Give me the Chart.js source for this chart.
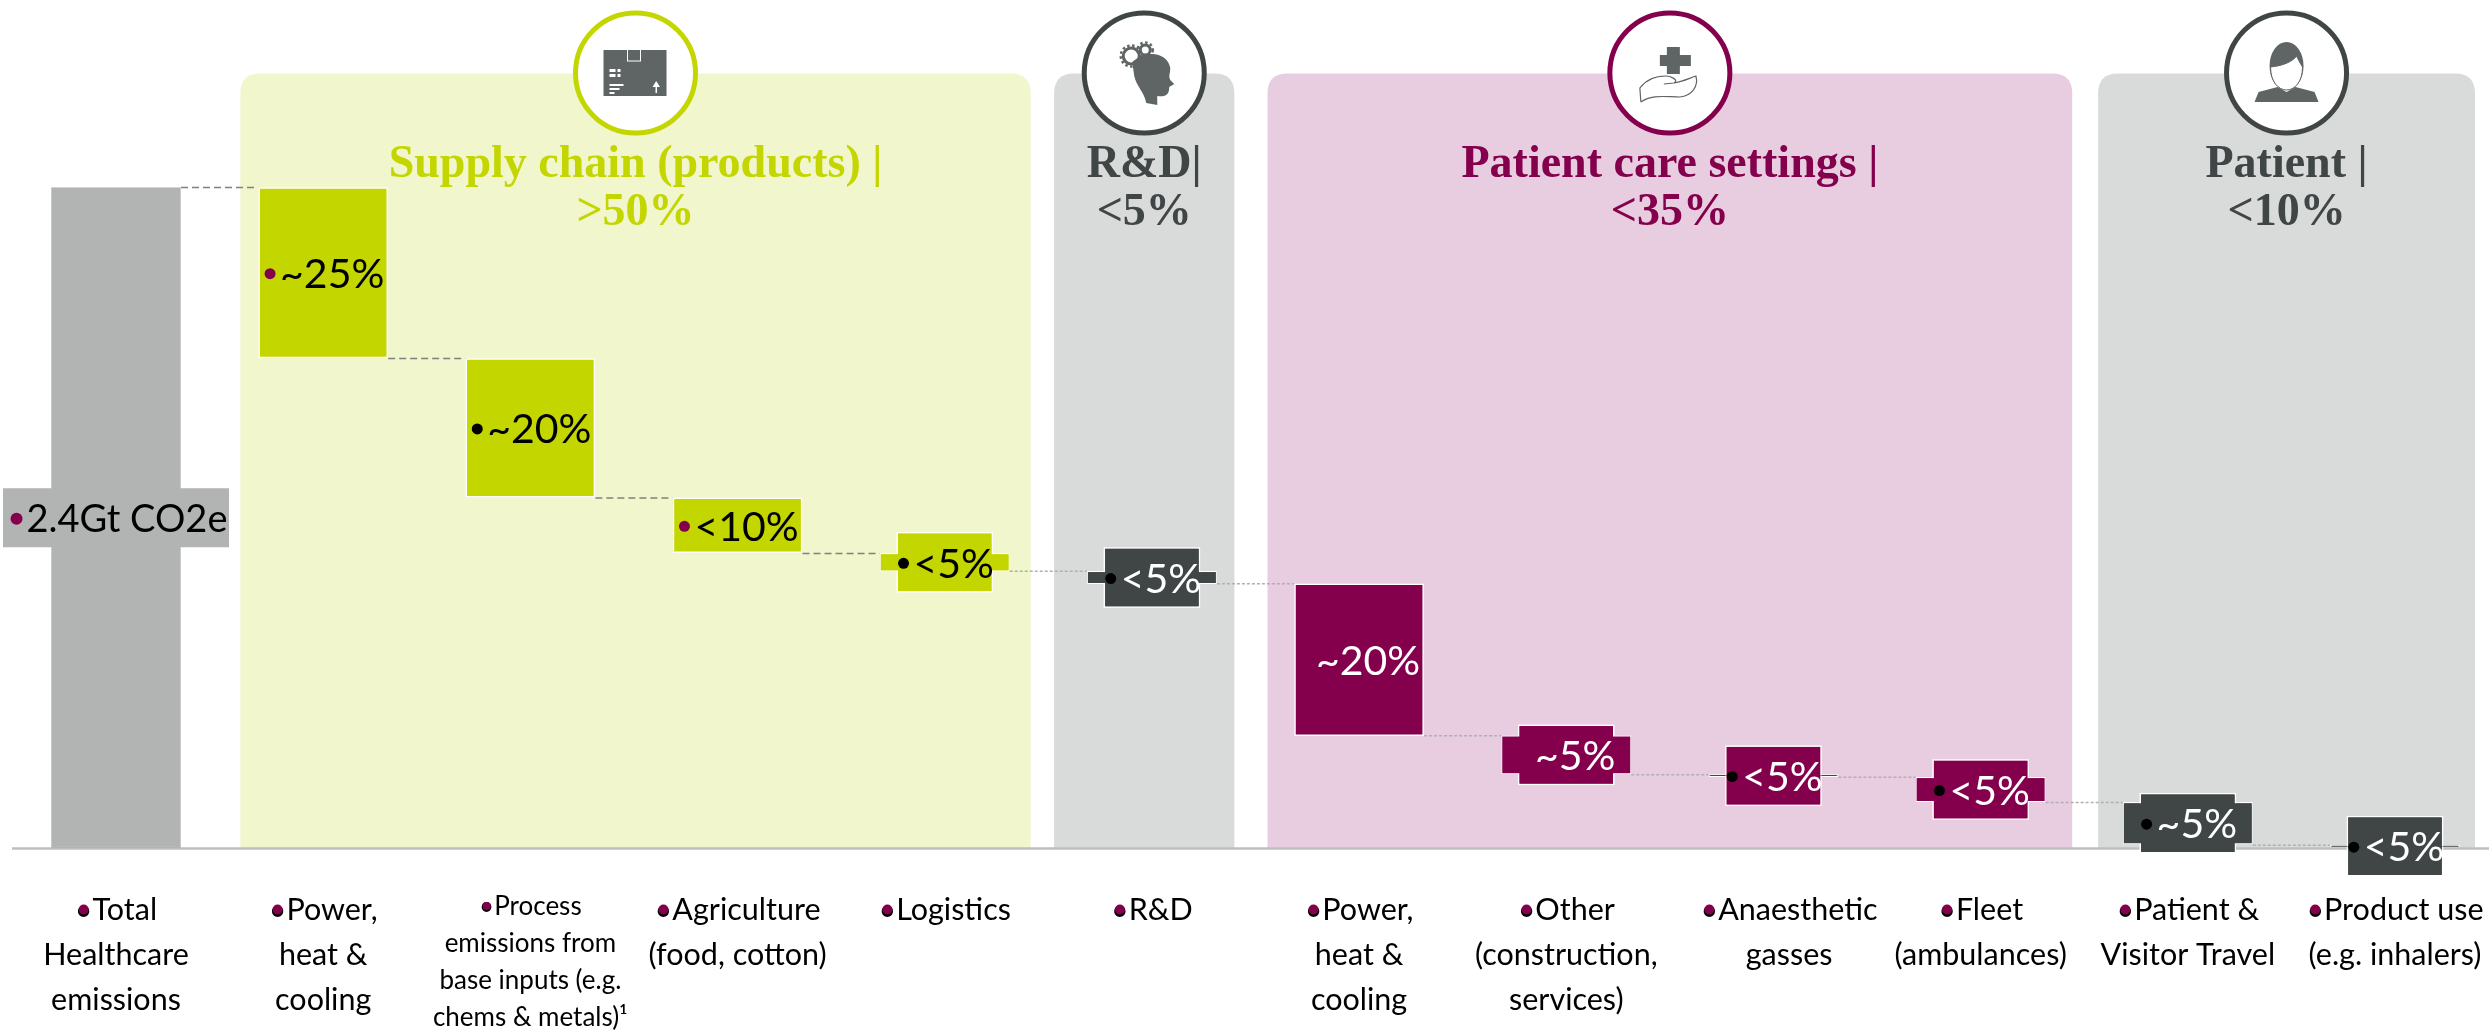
<!DOCTYPE html>
<html><head><meta charset="utf-8">
<style>html,body{margin:0;padding:0;background:#fff}#wrap{position:relative;width:2489px;height:1030px}</style>
<script src="https://cdn.jsdelivr.net/npm/chart.js@4"></script>
</head><body><div id="wrap"><canvas id="c" width="2489" height="1030"></canvas></div>
<script>
// ---- data (percent of total, floating waterfall steps) ----
const categories = [
  ['•Total','Healthcare','emissions'],
  ['•Power,','heat &','cooling'],
  ['•Process','emissions from','base inputs (e.g.','chems & metals)¹'],
  ['•Agriculture','(food, cotton)'],
  ['•Logistics'],
  ['•R&D'],
  ['•Power,','heat &','cooling'],
  ['•Other','(construction,','services)'],
  ['    •Anaesthetic','    gasses'],
  ['•Fleet','(ambulances)'],
  ['•Patient &','Visitor Travel'],
  ['•Product use','(e.g. inhalers)']
];
const stepHigh = [100, 100, 74.1, 53.0, 44.6, 41.9, 40.0, 17.0, 11.1, 10.7, 6.9, 0.4];
const stepLow  = [0, 74.2, 53.1, 44.7, 41.9, 40.0, 17.0, 11.2, 10.8, 7.0, 0.6, 0.15];
const valueLabels = ['2.4Gt CO2e','~25%','~20%','<10%','<5%','<5%','~20%','~5%','<5%','<5%','~5%','<5%'];
const bulletKinds = ['m','m','k','m','k','k','','','k','k','k','k'];
const groupOf     = ['t','s','s','s','s','r','c','c','c','c','p','p'];
const panelNames  = [['Supply chain (products) |','>50%'],['R&D|','<5%'],['Patient care settings |','<35%'],['Patient |','<10%']];
const panelStart  = [0.600, 4.528, 5.558, 9.567];
const panelEnd    = [4.415, 5.398, 9.442, 11.386];

// ---- styles ----
const GREEN='#C4D600', MAROON='#84004D', DARK='#404545', GREY='#B2B3B3';
const barColor = {t:GREY,s:GREEN,r:DARK,c:MAROON,p:DARK};
const panelFill = ['#F1F6CC','#D9DADA','#E7CDDF','#D9DADA'];
const panelInk  = [GREEN,DARK,MAROON,DARK];
const valueInk  = ['#000','#000','#000','#000','#000','#fff','#fff','#fff','#fff','#fff','#fff','#fff'];
const dashInk   = ['#808080','#808080','#808080','#808080','#B0B0B0','#B0B0B0','#B0B0B0','#B0B0B0','#B0B0B0','#B0B0B0','#B0B0B0'];
const ICON='#5F6565';

function rr(ctx,x,y,w,h,r){ctx.beginPath();ctx.moveTo(x+r,y);ctx.lineTo(x+w-r,y);ctx.quadraticCurveTo(x+w,y,x+w,y+r);ctx.lineTo(x+w,y+h);ctx.lineTo(x,y+h);ctx.lineTo(x,y+r);ctx.quadraticCurveTo(x,y,x+r,y);ctx.closePath();}

const icons = [
 function(ctx,c){ // box
  ctx.fillStyle=ICON;ctx.fillRect(c-32,50,63,46);
  ctx.strokeStyle='#fff';ctx.lineWidth=1;ctx.strokeRect(c-8,49,13,12);
  ctx.fillStyle='#fff';
  [[-26,69,6,3],[-18,69,3,3],[-26,74,6,3],[-18,74,3,3],[-26,84,14,2],[-26,88,10,2],[-26,92,5,2]].forEach(r=>ctx.fillRect(c+r[0],r[1],r[2],r[3]));
  ctx.fillRect(c+20,84,1.5,9);ctx.beginPath();ctx.moveTo(c+20.7,81);ctx.lineTo(c+17,87);ctx.lineTo(c+24.5,87);ctx.fill();
 },
 function(ctx,c){ // head with gears
  ctx.fillStyle=ICON;ctx.beginPath();
  ctx.moveTo(c-12,62);ctx.bezierCurveTo(c+4,48,c+24,54,c+26,68);ctx.bezierCurveTo(c+26,74,c+24,76,c+26,80);
  ctx.lineTo(c+30,84);ctx.lineTo(c+25,87);ctx.bezierCurveTo(c+25,96,c+20,97,c+13,96);ctx.lineTo(c+13,105);ctx.lineTo(c+2,103);
  ctx.bezierCurveTo(c,92,c-8,86,c-10,76);ctx.closePath();ctx.fill();
  [[c-13,56,8],[c+1,50,5]].forEach(g=>{ctx.strokeStyle=ICON;ctx.lineWidth=3;ctx.beginPath();ctx.arc(g[0],g[1],g[2],0,7);ctx.stroke();
   ctx.lineWidth=2.5;ctx.setLineDash([2.5,2.5]);ctx.beginPath();ctx.arc(g[0],g[1],g[2]+2.5,0,7);ctx.stroke();ctx.setLineDash([]);});
 },
 function(ctx,c){ // hand with cross
  ctx.fillStyle=ICON;ctx.fillRect(c-3,47,13,27);ctx.fillRect(c-10,55,31,11);
  ctx.strokeStyle=ICON;ctx.lineWidth=1.2;ctx.beginPath();
  ctx.moveTo(c-29,102);ctx.lineTo(c-30,88);ctx.bezierCurveTo(c-24,80,c-14,76,c-4,76);ctx.bezierCurveTo(c,76,c+10,80,c+4,83);
  ctx.lineTo(c-6,84);ctx.moveTo(c+4,83);ctx.bezierCurveTo(c+12,82,c+20,78,c+26,76);ctx.bezierCurveTo(c+29,86,c+22,96,c+10,97);
  ctx.bezierCurveTo(c-4,97,c-18,94,c-29,102);ctx.stroke();
 },
 function(ctx,c){ // person
  ctx.fillStyle=ICON;ctx.beginPath();ctx.ellipse(c,66,17,24,0,0,7);ctx.fill();
  ctx.fillStyle='#fff';ctx.beginPath();ctx.moveTo(c-16,67);ctx.bezierCurveTo(c-5,66,c+6,62,c+10,56);ctx.bezierCurveTo(c+12,60,c+14,64,c+16,67);
  ctx.bezierCurveTo(c+16,82,c+8,90,c,90);ctx.bezierCurveTo(c-8,90,c-16,82,c-16,67);ctx.fill();
  ctx.strokeStyle=ICON;ctx.lineWidth=1;ctx.stroke();
  ctx.fillStyle=ICON;ctx.beginPath();ctx.moveTo(c-32,102);ctx.lineTo(c-28,92);ctx.lineTo(c-9,87);ctx.lineTo(c,92);ctx.lineTo(c+9,87);ctx.lineTo(c+28,92);ctx.lineTo(c+32,102);ctx.closePath();ctx.fill();
 }
];

const backdrop = {
 id:'backdrop',
 beforeDatasetsDraw(chart){
  const {ctx,scales:{x,y}}=chart;
  ctx.save();
  const top=73.5, base=y.getPixelForValue(0);
  panelStart.forEach((s,i)=>{
    const l=x.getPixelForValue(s), r=x.getPixelForValue(panelEnd[i]);
    ctx.fillStyle=panelFill[i];rr(ctx,l,top,r-l,base-top,20);ctx.fill();
  });
  // baseline
  ctx.strokeStyle='#BFBFBF';ctx.lineWidth=2.5;ctx.beginPath();ctx.moveTo(12,base+0.5);ctx.lineTo(2489,base+0.5);ctx.stroke();
  // icons and headers
  panelStart.forEach((s,i)=>{
    const mid=(x.getPixelForValue(s)+x.getPixelForValue(panelEnd[i]))/2;
    ctx.fillStyle='#fff';ctx.strokeStyle=panelInk[i];ctx.lineWidth=5;
    ctx.beginPath();ctx.arc(mid,73,60,0,Math.PI*2);ctx.fill();ctx.stroke();
    icons[i](ctx,mid);
    ctx.fillStyle=panelInk[i];ctx.font='bold 46px "Liberation Serif"';ctx.textAlign='center';ctx.textBaseline='middle';
    ctx.fillText(panelNames[i][0],mid,165);
    ctx.fillText(panelNames[i][1],mid,213);
  });
  // connectors
  ctx.lineWidth=1.5;
  for(let i=0;i<categories.length-1;i++){
    const yy=y.getPixelForValue(stepHigh[i+1]);
    ctx.strokeStyle=dashInk[i];ctx.setLineDash(i<4?[7,4]:[3,2]);
    ctx.beginPath();ctx.moveTo(x.getPixelForValue(i)+65,yy);ctx.lineTo(x.getPixelForValue(i+1)-65,yy);ctx.stroke();
  }
  ctx.setLineDash([]);
  ctx.restore();
 },
 afterDatasetsDraw(chart){
  const {ctx,scales:{x,y}}=chart;
  ctx.save();
  ctx.textBaseline='middle';ctx.textAlign='center';
  categories.forEach((_,i)=>{
    const c=x.getPixelForValue(i), t=y.getPixelForValue(stepHigh[i]), b=y.getPixelForValue(stepLow[i]), m=(t+b)/2;
    const col=barColor[groupOf[i]];
    const bw=i===0?226:95, bh=59;
    if(i===0){
      ctx.fillStyle=col;ctx.fillRect(c-bw/2,m-bh/2,bw,bh);
    } else if(b-t<50){ // label plate taller than the thin step
      ctx.fillStyle=col;ctx.strokeStyle='#fff';ctx.lineWidth=1.5;
      ctx.fillRect(c-bw/2,m-bh/2,bw,bh);ctx.strokeRect(c-bw/2,m-bh/2,bw,bh);
      ctx.fillRect(c-64,t+0.8,128,Math.max(b-t-1.6,0.5));
      ctx.fillRect(c-bw/2+0.8,m-bh/2+0.8,bw-1.6,bh-1.6);
    }
    ctx.font=i===0?'38px Lato':'41px Lato';
    const w=ctx.measureText(valueLabels[i]).width, tc=c+(i===0?11:9);
    ctx.fillStyle=valueInk[i];ctx.fillText(valueLabels[i],tc,m+2);
    if(bulletKinds[i]){
      ctx.fillStyle=bulletKinds[i]==='m'?MAROON:'#000';
      ctx.beginPath();ctx.arc(tc-w/2-10,m+1,i===0?6:5.5,0,Math.PI*2);ctx.fill();
    }
  });
  // maroon bullets on the category labels
  ctx.textAlign='left';
  categories.forEach((lines,i)=>{
    const small=i===2;
    ctx.font=small?'26px Lato':'30.5px Lato';
    const w=ctx.measureText(lines[0]).width, lead=w-ctx.measureText(lines[0].trimStart()).width, bw=ctx.measureText('•').width;
    const bx=x.getPixelForValue(i)-w/2+lead+bw/2, by=small?906:909.5;
    ctx.fillStyle=MAROON;ctx.beginPath();ctx.arc(bx,by,small?4:5,0,Math.PI*2);ctx.fill();
  });
  ctx.restore();
 }
};

new Chart(document.getElementById('c'),{
 type:'bar',
 data:{
  labels:categories,
  datasets:[{
    data:stepHigh.map((h,i)=>[stepLow[i],h]),
    backgroundColor:groupOf.map(g=>barColor[g]),
    borderColor:groupOf.map((g,i)=>i===0?barColor[g]:'#fff'),
    borderWidth:1.5,borderSkipped:false,
    barThickness:129,clip:false
  }]
 },
 options:{
  responsive:false,animation:false,
  layout:{padding:{left:116,right:94,top:187.5,bottom:0}},
  plugins:{legend:{display:false},tooltip:{enabled:false},title:{display:false}},
  scales:{
   y:{display:false,min:0,max:100},
   x:{
    type:'category',offset:false,
    grid:{display:false,drawTicks:false},border:{display:false},
    afterFit(s){s.height=182;s.paddingLeft=0;s.paddingRight=0;},
    ticks:{
     autoSkip:false,maxRotation:0,minRotation:0,padding:40,color:'#000',
     font:ctx=>ctx.index===2?{family:'Lato',size:26,lineHeight:'37px'}:{family:'Lato',size:30.5,lineHeight:'44.7px'}
    }
   }
  }
 },
 plugins:[backdrop]
});
</script></body></html>
